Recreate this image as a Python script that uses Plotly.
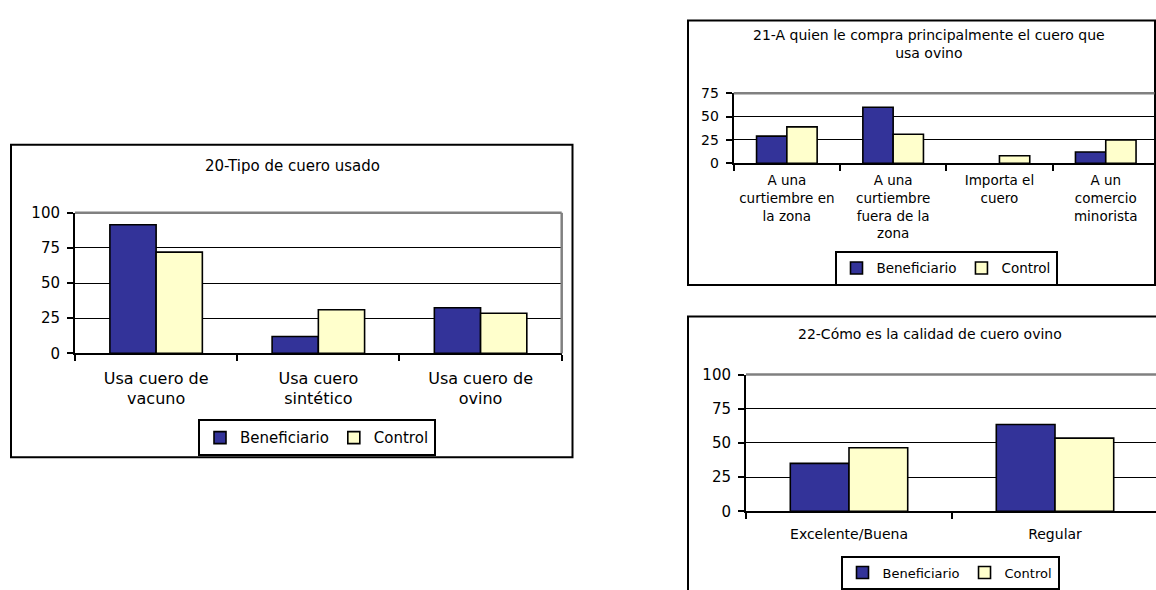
import plotly.graph_objects as go

# Chart 20: type of leather used
cats1 = ["Usa cuero de<br>vacuno", "Usa cuero<br>sintético", "Usa cuero de<br>ovino"]
benef1 = [91.5, 12, 32.5]
control1 = [72, 31, 28.5]

# Chart 21: who the sheep leather is bought from
cats2 = ["A una<br>curtiembre en<br>la zona", "A una<br>curtiembre<br>fuera de la<br>zona",
         "Importa el<br>cuero", "A un<br>comercio<br>minorista"]
benef2 = [29, 60, 0, 12]
control2 = [39, 31, 8, 25]

# Chart 22: quality of sheep leather
cats3 = ["Excelente/Buena", "Regular"]
benef3 = [35, 63.5]
control3 = [46.5, 53.5]

ticks1 = [0, 25, 50, 75, 100]
ticks2 = [0, 25, 50, 75]
ticks3 = [0, 25, 50, 75, 100]

W, H = 1156, 590
NAVY = "#333399"
CREAM = "#FFFFCC"
FONT = "DejaVu Sans"


def px(x):
    return x / W


def py(y):
    return 1 - y / H


fig = go.Figure()


def add_pair(cats, b, c, xa, ya, leg):
    for name, vals, col in (("Beneficiario", b, NAVY), ("Control", c, CREAM)):
        # empty bars get no outline so nothing is drawn for them
        widths = [1.6 if v else 0 for v in vals]
        fig.add_trace(go.Bar(
            x=cats, y=vals, name=name, xaxis=xa, yaxis=ya, legend=leg,
            marker=dict(color=col, line=dict(color="black", width=widths)),
        ))


add_pair(cats1, benef1, control1, "x", "y", "legend")
add_pair(cats2, benef2, control2, "x2", "y2", "legend2")
add_pair(cats3, benef3, control3, "x3", "y3", "legend3")


def xaxis(dom, rng, size, standoff):
    return dict(
        domain=dom, range=rng, type="category", tickson="boundaries",
        ticks="outside", ticklen=6, tickwidth=2, tickcolor="black",
        showline=True, linecolor="black", linewidth=2, showgrid=False,
        tickangle=0,
        tickfont=dict(family=FONT, size=size, color="black"),
        ticklabelstandoff=standoff, fixedrange=True,
    )


def yaxis(dom, rng, vals, size, anchor):
    return dict(
        domain=dom, range=rng, tickvals=vals, anchor=anchor,
        ticks="outside", ticklen=6, tickwidth=2, tickcolor="black",
        showline=True, linecolor="black", linewidth=2,
        showgrid=True, gridcolor="black", gridwidth=1, zeroline=False,
        tickfont=dict(family=FONT, size=size, color="black"),
        ticklabelstandoff=4, fixedrange=True,
    )


fig.update_layout(
    width=W, height=H, margin=dict(l=0, r=0, t=0, b=0),
    paper_bgcolor="white", plot_bgcolor="white",
    barmode="group", bargap=0.43, bargroupgap=0,
    font=dict(family=FONT, color="black"),
    xaxis=xaxis([px(75), px(561.7)], [-0.5, 2.5], 16, 9) | dict(anchor="y"),
    yaxis=yaxis([py(357.7), py(211.7)], [0, 100], ticks1, 15, "x"),
    xaxis2=xaxis([px(733.7), px(1154.5)], [-0.5, -0.5 + (1154.5 - 733.7) / 106.3], 13.5, 4) | dict(anchor="y2"),
    yaxis2=yaxis([py(160.2), py(87.5)], [0, 75], ticks2, 14, "x2"),
    xaxis3=xaxis([px(746), 1.0], [-0.5, -0.5 + (1156 - 746) / 206], 14, 9) | dict(anchor="y3"),
    yaxis3=yaxis([py(521.7), py(379.7)], [0, 100], ticks3, 15, "x3"),
    showlegend=True,
    legend=dict(orientation="h", x=px(317), y=py(445.5), xanchor="center", yanchor="middle",
                bordercolor="black", borderwidth=2, bgcolor="white",
                font=dict(family=FONT, size=15, color="black"), traceorder="normal"),
    legend2=dict(orientation="h", x=px(946), y=py(269.3), xanchor="center", yanchor="middle",
                 bordercolor="black", borderwidth=2, bgcolor="white",
                 font=dict(family=FONT, size=13.5, color="black"), traceorder="normal"),
    legend3=dict(orientation="h", x=px(950), y=py(567.7), xanchor="center", yanchor="top",
                 bordercolor="black", borderwidth=2, bgcolor="white",
                 font=dict(family=FONT, size=13, color="black"), traceorder="normal"),
)

shapes = []
# outer chart frames
for x0, y0, x1, y1 in ((11, 141, 572.5, 465.7), (688, 12, 1155, 286.7), (688, 319.5, 1170, 610)):
    shapes.append(dict(type="rect", xref="paper", yref="paper",
                       x0=px(x0), x1=px(x1), y0=py(y1), y1=py(y0),
                       line=dict(color="black", width=2), fillcolor="rgba(0,0,0,0)", layer="below"))
# grey plot-area border (top, and right where visible)
for xs, ys in (("x", "y"), ("x2", "y2"), ("x3", "y3")):
    shapes.append(dict(type="line", xref=f"{xs} domain", yref=f"{ys} domain",
                       x0=0, x1=1, y0=1, y1=1, line=dict(color="#808080", width=2.5), layer="above"))
shapes.append(dict(type="line", xref="x domain", yref="y domain",
                   x0=1, x1=1, y0=0, y1=1, line=dict(color="#808080", width=2.5), layer="above"))
fig.update_layout(shapes=shapes)

annotations = [
    dict(text="20-Tipo de cuero usado", x=px(292.5), y=py(163), size=15),
    dict(text="21-A quien le compra principalmente el cuero que<br>usa ovino", x=px(929), y=py(36.5), size=14),
    dict(text="22-Cómo es la calidad de cuero ovino", x=px(930), y=py(337.5), size=14),
]
fig.update_layout(annotations=[
    dict(text=a["text"], x=a["x"], y=a["y"], xref="paper", yref="paper",
         xanchor="center", yanchor="middle", showarrow=False,
         font=dict(family=FONT, size=a["size"], color="black"))
    for a in annotations
])

fig.write_html("out.html", config={"displayModeBar": False})
